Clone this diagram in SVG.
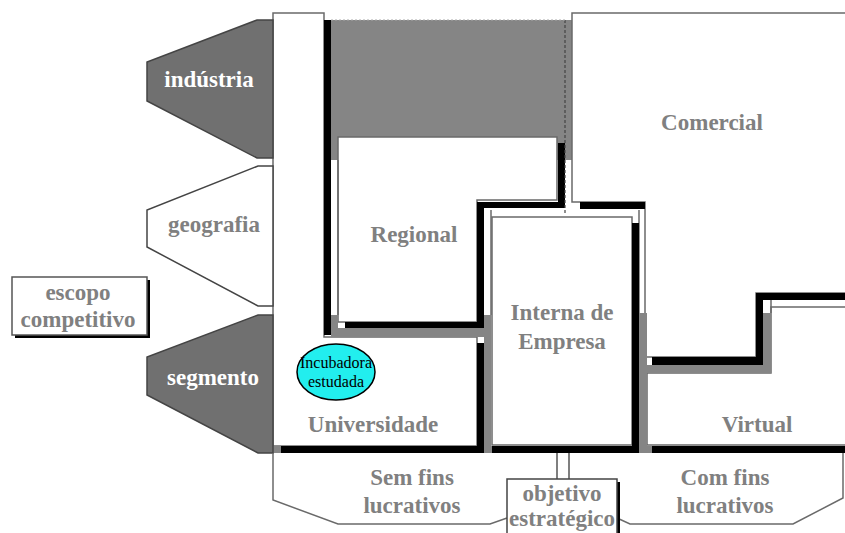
<svg xmlns="http://www.w3.org/2000/svg" width="845" height="533" viewBox="0 0 845 533">
<style>
.lbl{font-family:"Liberation Serif","Times New Roman",serif;font-weight:bold;font-size:23px;fill:#808080;text-anchor:middle}
.wl{fill:#ffffff}
.box{fill:#ffffff;stroke:#6a6a6a;stroke-width:1.5}
.dark{fill:#707070;stroke:#444;stroke-width:1.5}
.corr{fill:#858585}
.wall{fill:#000}
.edge{fill:none;stroke:#6a6a6a;stroke-width:1.5}
.inc{font-family:"Liberation Serif","Times New Roman",serif;font-size:16px;fill:#000;text-anchor:middle}
</style>
<rect width="845" height="533" fill="#fff"/>

<rect id="topband" x="331" y="20" width="241" height="140" class="corr"/>

<g id="universidade">
<polygon class="box" points="273,13 324,13 324,337 477,337 477,446 273,446"/>
<text class="lbl" x="373" y="432">Universidade</text>
</g>

<g id="regional">
<polygon class="box" points="338,137 557,137 557,200 477,200 477,322 338,322"/>
<text class="lbl" x="414" y="242">Regional</text>
</g>

<g id="comercial">
<polygon class="box" points="572,13 850,13 850,293 756,293 756,357 645,357 645,202 572,202"/>
<text class="lbl" x="712" y="130">Comercial</text>
</g>

<g id="interna">
<rect class="box" x="492" y="217" width="140" height="228"/>
<text class="lbl" x="562" y="320">Interna de</text>
<text class="lbl" x="562" y="349">Empresa</text>
</g>

<g id="virtual">
<polygon class="box" points="647,373 771,373 771,307 850,307 850,445 647,445"/>
<text class="lbl" x="757" y="432">Virtual</text>
</g>

<g id="walls">
<rect class="corr" x="331" y="315" width="7" height="22"/>
<rect class="corr" x="331" y="328" width="160" height="9"/>
<rect class="corr" x="484" y="315" width="7" height="138"/>
<rect class="corr" x="639" y="313" width="8" height="140"/>
<rect class="corr" x="639" y="365" width="132" height="8"/>
<rect class="corr" x="763" y="313" width="8" height="60"/>
<rect class="corr" x="273" y="446" width="8" height="7"/>
<line class="edge" x1="338" y1="160" x2="338" y2="315" stroke-width="1"/>
<line class="edge" x1="491" y1="210" x2="491" y2="315" stroke-width="1"/>
<line class="edge" x1="639" y1="210" x2="639" y2="313" stroke-width="1"/>
<line class="edge" x1="771" y1="300" x2="771" y2="313" stroke-width="1"/>
<rect class="wall" x="324" y="20" width="7" height="315"/>
<rect class="wall" x="558" y="143" width="7" height="65"/>
<rect class="wall" x="477" y="202" width="88" height="6"/>
<rect class="wall" x="477" y="202" width="7" height="126"/>
<rect class="wall" x="345" y="322" width="139" height="6"/>
<rect class="wall" x="477" y="343" width="7" height="110"/>
<rect class="wall" x="281" y="446" width="564" height="7"/>
<rect class="wall" x="580" y="202" width="65" height="7"/>
<rect class="wall" x="632" y="223" width="7" height="230"/>
<rect class="wall" x="652" y="357" width="111" height="8"/>
<rect class="wall" x="756" y="293" width="7" height="72"/>
<rect class="wall" x="756" y="293" width="89" height="7"/>
<rect x="484" y="446" width="8" height="7" class="corr"/>
<rect x="639" y="446" width="13" height="7" class="corr"/>
<line x1="565" y1="20" x2="565" y2="215" stroke="#444" stroke-width="1.2" stroke-dasharray="3,2"/>
<line x1="331" y1="20" x2="565" y2="20" stroke="#aaa" stroke-width="1" stroke-dasharray="2,2"/>
</g>

<g id="industria">
<polygon class="dark" points="273,20 257,20 147,62 147,101 257,158 273,158"/>
<text class="lbl wl" x="209" y="87">indústria</text>
</g>

<g id="geografia">
<polygon class="box" points="273,166 258,166 147,210 147,247 258,306 273,306" style="stroke:#444"/>
<text class="lbl" x="214" y="232">geografia</text>
</g>

<g id="segmento">
<polygon class="dark" points="273,315 258,315 147,357 147,395 258,453 273,453"/>
<text class="lbl wl" x="213" y="385">segmento</text>
</g>

<g id="escopo">
<rect x="15" y="280" width="135" height="58" fill="#000"/>
<rect x="12" y="277" width="135" height="58" fill="#fff" stroke="#555" stroke-width="1.5"/>
<text class="lbl" x="78" y="300">escopo</text>
<text class="lbl" x="78" y="327">competitivo</text>
</g>

<g id="incubadora">
<ellipse cx="336" cy="372" rx="39" ry="28" fill="#22eeee" stroke="#000" stroke-width="1.5"/>
<text class="inc" x="336" y="368">Incubadora</text>
<text class="inc" x="336" y="387">estudada</text>
</g>

<g id="sem-fins">
<polyline class="edge" points="273,453 273,500 338,524 490,524 507,518"/>
<text class="lbl" x="412" y="485">Sem fins</text>
<text class="lbl" x="412" y="513">lucrativos</text>
</g>

<g id="com-fins">
<polyline class="edge" points="617,518 630,524 793,524 843,498 843,453"/>
<text class="lbl" x="725" y="485">Com fins</text>
<text class="lbl" x="725" y="513">lucrativos</text>
</g>

<g id="connectors">
<line x1="557" y1="453" x2="557" y2="479" stroke="#555" stroke-width="1.5"/>
<line x1="569" y1="453" x2="569" y2="479" stroke="#555" stroke-width="1.5"/>
</g>

<g id="objetivo">
<rect x="510" y="482" width="110" height="60" fill="#000"/>
<rect x="507" y="479" width="110" height="60" fill="#fff" stroke="#444" stroke-width="1.5"/>
<text class="lbl" x="562" y="501">objetivo</text>
<text class="lbl" x="562" y="526">estratégico</text>
</g>
</svg>
